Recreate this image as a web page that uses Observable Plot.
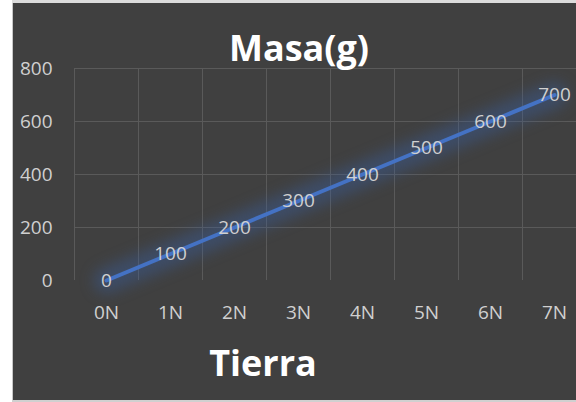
<!DOCTYPE html>
<html><head><meta charset="utf-8">
<script src="https://cdn.jsdelivr.net/npm/d3@7"></script>
<script src="https://cdn.jsdelivr.net/npm/@observablehq/plot@0.6"></script>
<style>
html,body{margin:0;padding:0;background:#fff;}
#wrap{position:relative;width:576px;height:402px;overflow:hidden;background:#fff;}
#panel{position:absolute;left:12px;top:3px;width:564px;height:397px;background:#404040;border-left:1px solid #c8c8c8;border-top:0;}
#topline{position:absolute;left:12px;top:0;width:564px;height:3px;background:#dcdcdc;}
#botline{position:absolute;left:12px;top:400px;width:564px;height:2px;background:#d0d0d0;}
#chart{position:absolute;left:0;top:0;}
.ttl{position:absolute;font-family:"Open Sans",sans-serif;font-weight:700;font-size:36px;line-height:36px;color:#fff;white-space:nowrap;transform:translateX(-50%);}
</style></head>
<body>
<div id="wrap">
  <div id="topline"></div>
  <div id="panel"></div>
  <div id="botline"></div>
  <div id="chart"></div>
  <div class="ttl" id="title" style="left:299px;top:30px;">Masa(g)</div>
  <div class="ttl" id="xtitle" style="left:263px;top:345px;">Tierra</div>
</div>
<script>
const categories = ["0N", "1N", "2N", "3N", "4N", "5N", "6N", "7N"];
const masses = [0, 100, 200, 300, 400, 500, 600, 700];
const yTicks = [0, 200, 400, 600, 800];
const gridTicks = [200, 400, 600, 800];

const data = categories.map((c, i) => ({fuerza: c, masa: masses[i]}));

const chart = Plot.plot({
  width: 576,
  height: 402,
  marginTop: 68,
  marginBottom: 122,
  marginLeft: 74,
  marginRight: 0,
  x: {type: "point", domain: categories, range: [74, 586], padding: 0.5},
  y: {domain: [0, 800]},
  style: {background: "transparent", fontFamily: "Open Sans", fontSize: "19px", color: "#d9d9d9", overflow: "hidden"},
  marks: [
    Plot.ruleY(gridTicks, {stroke: "#5a5a5a", strokeWidth: 1}),
    Plot.ruleX(categories, {dx: -32, stroke: "#5a5a5a", strokeWidth: 1}),
    Plot.axisY(yTicks, {tickSize: 0, tickPadding: 22, label: null, fill: "#d0d0d0", fontSize: 19}),
    Plot.axisX({tickSize: 0, tickPadding: 25, label: null, fill: "#d0d0d0", fontSize: 19}),
    Plot.line(data, {x: "fuerza", y: "masa", stroke: "#3a5f9f", strokeWidth: 26, strokeOpacity: 0.4, imageFilter: "blur(7px)"}),
    Plot.line(data, {x: "fuerza", y: "masa", stroke: "#4472C4", strokeWidth: 4}),
    Plot.text(data, {x: "fuerza", y: "masa", text: d => String(d.masa), fill: "#d0d0d0", fontSize: 19})
  ]
});
document.getElementById("chart").appendChild(chart);
</script>
</body></html>
